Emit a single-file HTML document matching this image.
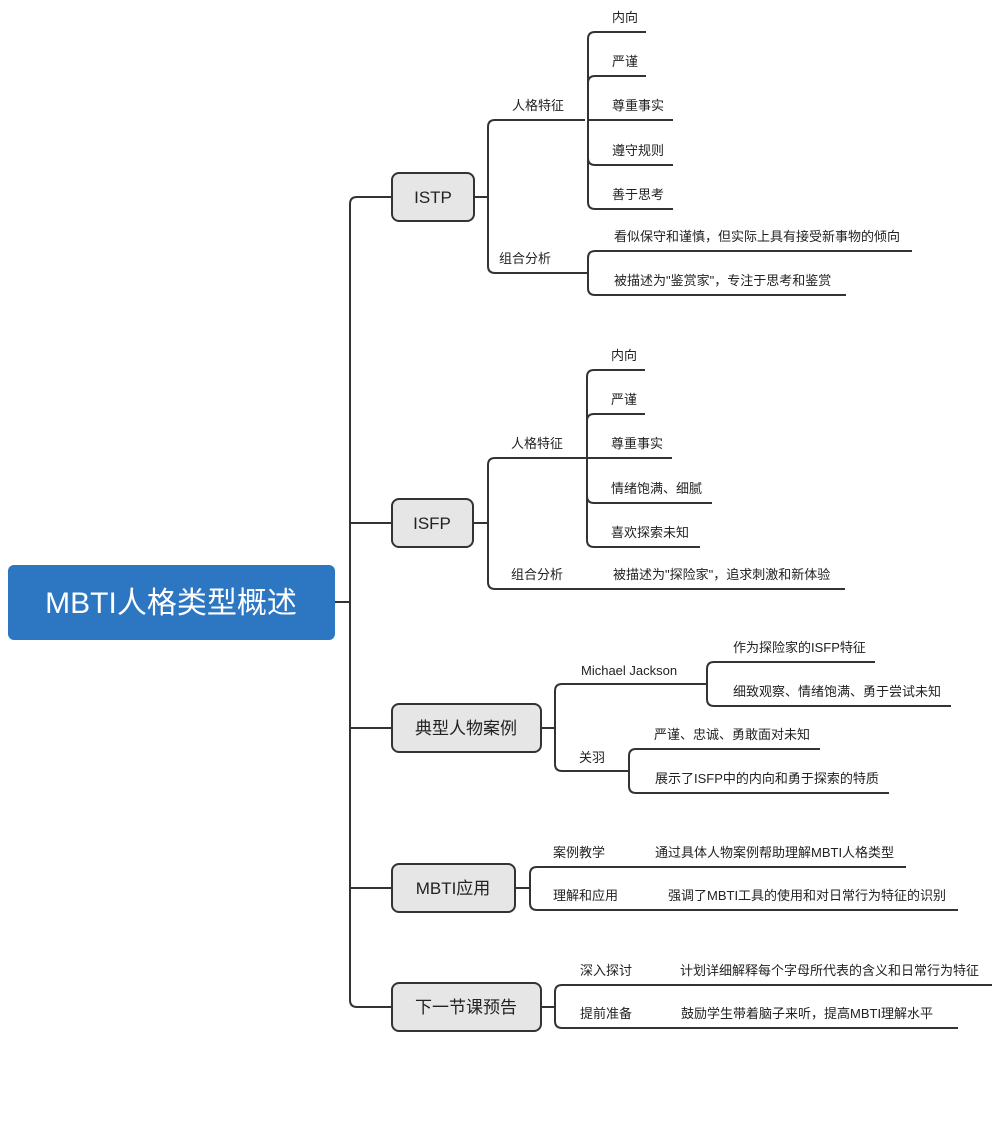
<!DOCTYPE html>
<html><head><meta charset="utf-8"><style>
body{margin:0;background:#fff}
svg{display:block}
text{font-family:"Liberation Sans","Noto Sans CJK SC",sans-serif;fill:#222}
.l{font-size:13px}
.b{font-size:17px}
path,line{stroke:#333;stroke-width:2;fill:none}
</style></head><body>
<svg width="1000" height="1124" viewBox="0 0 1000 1124">
<!-- root -->
<rect x="8" y="565" width="327" height="75" rx="6" fill="#2d77c2"/>
<text x="171" y="613" text-anchor="middle" style="font-size:30px;fill:#fff">MBTI人格类型概述</text>
<line x1="335" y1="602" x2="350" y2="602"/>
<path d="M392,197 H357 Q350,197 350,204 V1000 Q350,1007 357,1007 H392"/>
<line x1="350" y1="523" x2="392" y2="523"/>
<line x1="350" y1="728" x2="392" y2="728"/>
<line x1="350" y1="888" x2="392" y2="888"/>

<!-- boxes -->
<g fill="#e6e6e6" stroke="#333" stroke-width="2">
<rect x="392" y="173" width="82" height="48" rx="7"/>
<rect x="392" y="499" width="81" height="48" rx="7"/>
<rect x="392" y="704" width="149" height="48" rx="7"/>
<rect x="392" y="864" width="123" height="48" rx="7"/>
<rect x="392" y="983" width="149" height="48" rx="7"/>
</g>
<g class="b" text-anchor="middle">
<text x="433" y="203">ISTP</text>
<text x="432" y="529">ISFP</text>
<text x="466" y="734">典型人物案例</text>
<text x="453" y="894">MBTI应用</text>
<text x="466" y="1013">下一节课预告</text>
</g>

<!-- ISTP -->
<line x1="474" y1="197" x2="488" y2="197"/>
<path d="M585,120 H495 Q488,120 488,127 V266 Q488,273 495,273 H588"/>
<path d="M646,32 H595 Q588,32 588,39 V202 Q588,209 595,209 H673"/>
<path d="M646,76 H595 Q588,76 588,83"/>
<line x1="588" y1="120" x2="673" y2="120"/>
<path d="M588,158 Q588,165 595,165 H673"/>
<path d="M912,251 H595 Q588,251 588,258 V288 Q588,295 595,295 H846"/>
<g class="l">
<text x="512" y="110">人格特征</text>
<text x="499" y="263">组合分析</text>
<text x="612" y="22">内向</text>
<text x="612" y="66">严谨</text>
<text x="612" y="110">尊重事实</text>
<text x="612" y="155">遵守规则</text>
<text x="612" y="199">善于思考</text>
<text x="614" y="241">看似保守和谨慎，但实际上具有接受新事物的倾向</text>
<text x="614" y="285">被描述为"鉴赏家"，专注于思考和鉴赏</text>
</g>

<!-- ISFP -->
<line x1="473" y1="523" x2="488" y2="523"/>
<path d="M587,458 H495 Q488,458 488,465 V582 Q488,589 495,589 H845"/>
<path d="M645,370 H594 Q587,370 587,377 V540 Q587,547 594,547 H700"/>
<path d="M645,414 H594 Q587,414 587,421"/>
<line x1="587" y1="458" x2="672" y2="458"/>
<path d="M587,496 Q587,503 594,503 H712"/>
<g class="l">
<text x="511" y="448">人格特征</text>
<text x="511" y="579">组合分析</text>
<text x="611" y="360">内向</text>
<text x="611" y="404">严谨</text>
<text x="611" y="448">尊重事实</text>
<text x="611" y="493">情绪饱满、细腻</text>
<text x="611" y="537">喜欢探索未知</text>
<text x="613" y="579">被描述为"探险家"，追求刺激和新体验</text>
</g>

<!-- 典型人物案例 -->
<line x1="541" y1="728" x2="555" y2="728"/>
<path d="M707,684 H562 Q555,684 555,691 V764 Q555,771 562,771 H629"/>
<path d="M875,662 H714 Q707,662 707,669 V699 Q707,706 714,706 H951"/>
<path d="M820,749 H636 Q629,749 629,756 V786 Q629,793 636,793 H889"/>
<g class="l">
<text x="581" y="675">Michael Jackson</text>
<text x="579" y="762">关羽</text>
<text x="733" y="652">作为探险家的ISFP特征</text>
<text x="733" y="696">细致观察、情绪饱满、勇于尝试未知</text>
<text x="654" y="739">严谨、忠诚、勇敢面对未知</text>
<text x="655" y="783">展示了ISFP中的内向和勇于探索的特质</text>
</g>

<!-- MBTI应用 -->
<line x1="515" y1="888" x2="530" y2="888"/>
<path d="M906,867 H537 Q530,867 530,874 V903 Q530,910 537,910 H958"/>
<g class="l">
<text x="553" y="857">案例教学</text>
<text x="655" y="857">通过具体人物案例帮助理解MBTI人格类型</text>
<text x="553" y="900">理解和应用</text>
<text x="668" y="900">强调了MBTI工具的使用和对日常行为特征的识别</text>
</g>

<!-- 下一节课预告 -->
<line x1="541" y1="1007" x2="555" y2="1007"/>
<path d="M992,985 H562 Q555,985 555,992 V1021 Q555,1028 562,1028 H958"/>
<g class="l">
<text x="580" y="975">深入探讨</text>
<text x="680" y="975">计划详细解释每个字母所代表的含义和日常行为特征</text>
<text x="580" y="1018">提前准备</text>
<text x="681" y="1018">鼓励学生带着脑子来听，提高MBTI理解水平</text>
</g>
</svg>
</body></html>
